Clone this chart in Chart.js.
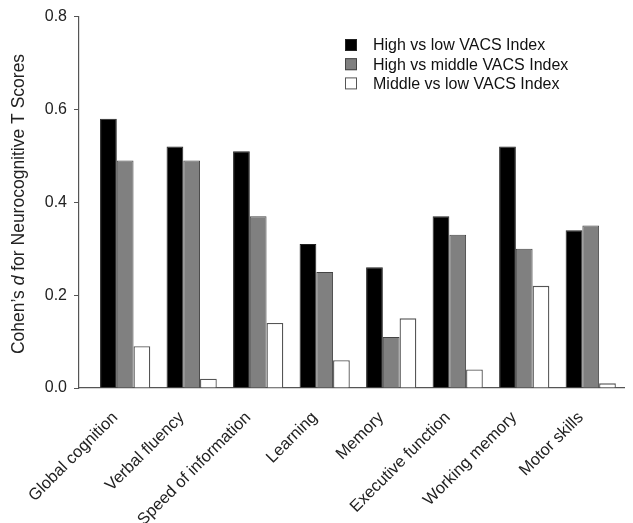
<!DOCTYPE html>
<html>
<head>
<meta charset="utf-8">
<script src="https://cdn.jsdelivr.net/npm/chart.js@4/dist/chart.umd.min.js"></script>
<style>
  html, body { margin: 0; padding: 0; background: #fff; }
  #wrap { width: 633px; height: 523px; position: relative; }
</style>
</head>
<body>
<div id="wrap"><canvas id="effectChart"></canvas></div>
<script>
// Data
const categories = ["Global cognition", "Verbal fluency", "Speed of information", "Learning",
  "Memory", "Executive function", "Working memory", "Motor skills"]
const highVsLow = [0.58, 0.52, 0.51, 0.31, 0.26, 0.37, 0.52, 0.34]
const highVsMiddle = [0.49, 0.49, 0.37, 0.25, 0.11, 0.33, 0.30, 0.35]
const middleVsLow = [0.09, 0.02, 0.14, 0.06, 0.15, 0.04, 0.22, 0.01]
const seriesNames = ["High vs low VACS Index", "High vs middle VACS Index", "Middle vs low VACS Index"]
const yTicks = [0, 0.2, 0.4, 0.6, 0.8]

const FONT = "'Liberation Sans', Arial, Helvetica, sans-serif"
const AXIS = "#555"

const toPoints = (arr) => arr.map((v, i) => ({ x: i, y: v }))

// y title with italic "d" and legend box, drawn on the canvas
const extras = {
  id: "extras",
  afterDraw(chart) {
    const ctx = chart.ctx
    ctx.save()
    // y axis title
    const parts = [["Cohen\u2019s ", "normal"], ["d", "italic"], [" for Neurocognitive T Scores", "normal"]]
    ctx.fillStyle = "#222"
    ctx.textBaseline = "middle"
    let total = 0
    parts.forEach((p) => {
      ctx.font = p[1] + " 17.5px " + FONT
      total += ctx.measureText(p[0]).width
    })
    ctx.translate(19, 204)
    ctx.rotate(-Math.PI / 2)
    let x = -total / 2
    parts.forEach((p) => {
      ctx.font = p[1] + " 17.5px " + FONT
      ctx.textAlign = "left"
      ctx.fillText(p[0], x, 0)
      x += ctx.measureText(p[0]).width
    })
    ctx.restore()

    // legend
    ctx.save()
    ctx.font = "16px " + FONT
    ctx.textBaseline = "middle"
    chart.data.datasets.forEach((ds, i) => {
      const cy = 45 + i * 19.2
      ctx.fillStyle = ds.backgroundColor
      ctx.fillRect(345, cy - 6, 12, 12)
      ctx.strokeStyle = ds.borderColor
      ctx.lineWidth = 1
      ctx.strokeRect(345.5, cy - 5.5, 11, 11)
      ctx.fillStyle = "#111"
      ctx.fillText(ds.label, 373, cy + 1)
    })
    ctx.restore()
  },
}

new Chart(document.getElementById("effectChart"), {
  type: "bar",
  data: {
    datasets: [
      {
        label: seriesNames[0],
        data: toPoints(highVsLow),
        backgroundColor: "#000000",
        borderColor: "#222222",
        borderWidth: 1,
      },
      {
        label: seriesNames[1],
        data: toPoints(highVsMiddle),
        backgroundColor: "#808080",
        borderColor: "#444444",
        borderWidth: 1,
      },
      {
        label: seriesNames[2],
        data: toPoints(middleVsLow),
        backgroundColor: "#ffffff",
        borderColor: "#555555",
        borderWidth: 1.3,
      },
    ],
  },
  options: {
    responsive: true,
    maintainAspectRatio: false,
    animation: false,
    layout: {
      padding: { top: 14.5, right: 9, left: 0, bottom: 0 },
    },
    datasets: {
      bar: {
        categoryPercentage: 0.755,
        barPercentage: 1.0,
        borderSkipped: "bottom",
      },
    },
    plugins: {
      legend: { display: false },
      tooltip: { enabled: false },
    },
    scales: {
      x: {
        type: "linear",
        offset: false,
        min: -0.694,
        max: 7.5,
        grid: { display: false, drawTicks: false },
        border: { display: true, color: AXIS, width: 1.2 },
        afterFit: (scale) => {
          scale.height = 135
        },
        ticks: {
          stepSize: 1,
          includeBounds: false,
          autoSkip: false,
          minRotation: 45,
          maxRotation: 45,
          padding: 20,
          labelOffset: -10,
          color: "#222",
          font: { family: FONT, size: 16.5 },
          callback: (v) => (Number.isInteger(v) && categories[v] ? categories[v] : ""),
        },
      },
      y: {
        min: 0,
        max: 0.8,
        afterFit: (scale) => {
          scale.width = 79
        },
        afterBuildTicks: (scale) => {
          scale.ticks = yTicks.map((v) => ({ value: v }))
        },
        grid: {
          drawOnChartArea: false,
          drawTicks: true,
          tickLength: 5,
          tickColor: AXIS,
        },
        border: { display: true, color: AXIS, width: 1.2 },
        ticks: {
          padding: 7,
          color: "#222",
          font: { family: FONT, size: 16 },
          callback: (v) => v.toFixed(1),
        },
      },
    },
  },
  plugins: [extras],
})
</script>
</body>
</html>
